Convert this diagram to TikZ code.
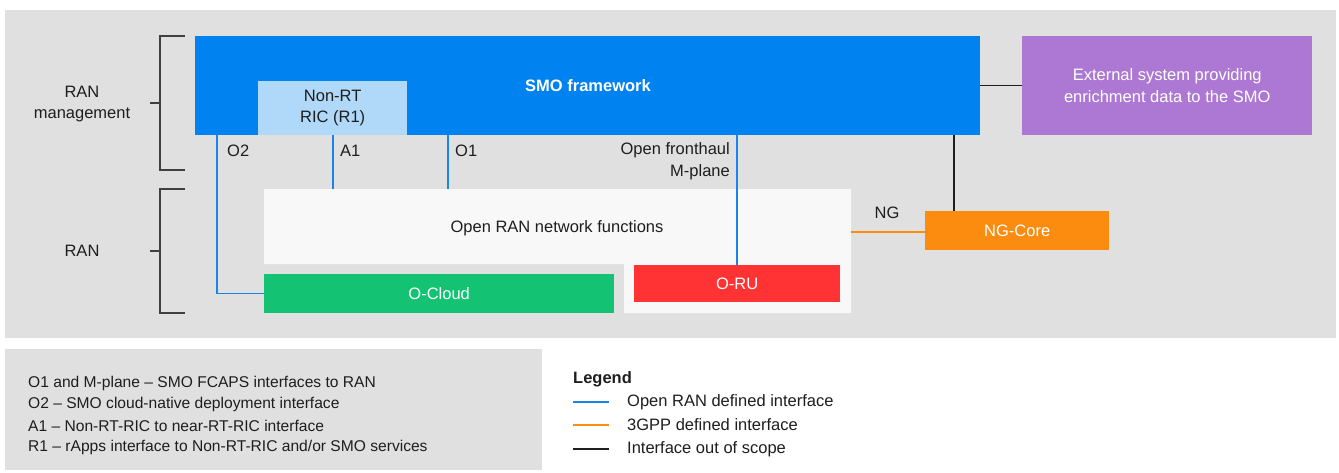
\documentclass[tikz,border=0pt]{standalone}
\usepackage{fontspec}
\setmainfont{Liberation Sans}
\begin{document}
\begin{tikzpicture}[x=1pt,y=-1pt,
  every node/.style={font=\fontsize{16.5}{21.5}\selectfont, text=txt, inner sep=0pt},
  box/.style={anchor=north west, draw=none, align=center},
  blueline/.style={draw=lblue, line width=1.5pt},
  orangeline/.style={draw=lorange, line width=1.5pt},
  blackline/.style={draw=txt, line width=1.5pt},
  brk/.style={draw=txt!85, line width=1.3pt},
  lbl/.style={anchor=west},
  note/.style={anchor=west, font=\fontsize{15.6}{21}\selectfont},
]
\definecolor{txt}{HTML}{1E1E1E}
\definecolor{bg}{HTML}{E0E0E0}
\definecolor{smoblue}{HTML}{0082F0}
\definecolor{ricblue}{HTML}{B0D8F8}
\definecolor{purp}{HTML}{AD78D3}
\definecolor{ngorange}{HTML}{FB8C0F}
\definecolor{ogreen}{HTML}{13C272}
\definecolor{ored}{HTML}{FF3333}
\definecolor{owhite}{HTML}{F8F8F8}
\definecolor{lblue}{HTML}{1A84E8}
\definecolor{lorange}{HTML}{FF8C0A}
\useasboundingbox (0,0) rectangle (1339,472);
\fill[white] (0,0) rectangle (1339,472);
% backgrounds
\fill[bg] (5,10) rectangle (1336,338);
\fill[bg] (5,349) rectangle (542,470);
% white L shape
\fill[owhite] (264,189) -- (851,189) -- (851,313) -- (624,313) -- (624,264) -- (264,264) -- cycle;
\node[box, minimum width=587pt, minimum height=75pt] (oran) at (264,189) {};
\node at (557,228) (orantxt) {Open RAN network functions};
% SMO
\node[box, fill=smoblue, minimum width=785pt, minimum height=99pt] (smo) at (195,36) {};
\node[text=white, font=\fontsize{16.5}{21.5}\selectfont\bfseries] (smotxt) at (588,86) {SMO framework};
\node[box, fill=ricblue, minimum width=149pt, minimum height=54pt] (ric) at (258,81) {Non-RT\\RIC (R1)};
\node[box, fill=purp, minimum width=290pt, minimum height=99pt, text=white] (ext) at (1022,36) {External system providing\\enrichment data to the SMO};
\node[box, fill=ngorange, minimum width=184pt, minimum height=39pt, text=white] (ng) at (925,211) {NG-Core};
\node[box, fill=ogreen, minimum width=350pt, minimum height=39pt, text=white] (ocloud) at (264,274) {O-Cloud};
\node[box, fill=ored, minimum width=206pt, minimum height=37pt, text=white] (oru) at (634,265) {O-RU};
% coordinates
\coordinate (o2x) at (217,0);
\coordinate (a1x) at (333,0);
\coordinate (o1x) at (448,0);
\coordinate (ofx) at (737,0);
\coordinate (ngx) at (954,0);
\coordinate (ngy) at (0,232);
% connectors
\draw[blueline] (smo.south -| o2x) |- (ocloud.west);
\draw[blueline] (smo.south -| a1x) -- (oran.north -| a1x);
\draw[blueline] (smo.south -| o1x) -- (oran.north -| o1x);
\draw[blueline] (smo.south -| ofx) -- (oru.north -| ofx);
\draw[blackline] (smo.east |- ext.west) -- (ext.west);
\draw[blackline] (smo.south -| ngx) -- (ng.north -| ngx);
\draw[orangeline] (oran.east |- ngy) -- (ng.west |- ngy);
% labels
\node[lbl] (lo2) at (227,151) {O2};
\node[lbl] (la1) at (340,151) {A1};
\node[lbl] (lo1) at (455,151) {O1};
\node[anchor=east, align=right] (lof) at (730,161) {Open fronthaul\\M-plane};
\node (lng) at (887,213) {NG};
% brackets
\draw[brk] (185,36) -- (160,36) -- (160,170) -- (185,170);
\draw[brk] (150,103) -- (160,103);
\draw[brk] (185,189) -- (160,189) -- (160,313) -- (185,313);
\draw[brk] (150,251) -- (160,251);
\node[align=center] (lranm) at (82,104) {RAN\\management};
\node (lran) at (82,251) {RAN};
% notes
\node[note] (n1) at (28,383) {O1 and M-plane -- SMO FCAPS interfaces to RAN};
\node[note] (n2) at (28,404) {O2 -- SMO cloud-native deployment interface};
\node[note] (n3) at (28,426) {A1 -- Non-RT-RIC to near-RT-RIC interface};
\node[note] (n4) at (28,447) {R1 -- rApps interface to Non-RT-RIC and/or SMO services};
% legend
\node[anchor=west, font=\fontsize{16.5}{21}\selectfont\bfseries] (leg) at (573,379) {Legend};
\coordinate (l1a) at (573,402); \coordinate (l1b) at (609,402);
\coordinate (l2a) at (573,425); \coordinate (l2b) at (609,425);
\coordinate (l3a) at (573,449); \coordinate (l3b) at (609,449);
\draw[blueline] (l1a) -- (l1b);
\draw[orangeline] (l2a) -- (l2b);
\draw[blackline] (l3a) -- (l3b);
\node[lbl] (t1) at (627,402) {Open RAN defined interface};
\node[lbl] (t2) at (627,425) {3GPP defined interface};
\node[lbl] (t3) at (627,449) {Interface out of scope};
\end{tikzpicture}
\end{document}
